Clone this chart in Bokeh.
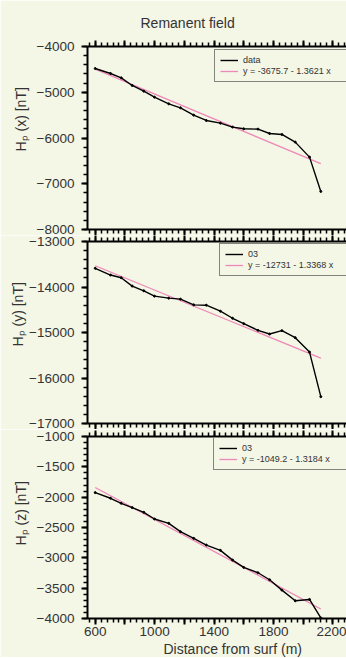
import numpy as np
from bokeh.plotting import figure
from bokeh.models import (Range1d, LinearAxis, SingleIntervalTicker, Legend,
                          LegendItem, Title)
from bokeh.layouts import column
from bokeh.embed import file_html
from bokeh.resources import INLINE
import re

# ---------------- data ----------------
distance = [600, 703, 775, 849, 927, 999, 1095, 1174, 1263, 1348, 1443,
            1525, 1600, 1696, 1774, 1857, 1947, 2043, 2119]
hx = [-4481, -4590, -4685, -4852, -4976, -5107, -5253, -5340, -5500, -5617,
      -5675, -5762, -5799, -5806, -5901, -5923, -6090, -6418, -7168]
hy = [-13589, -13737, -13796, -13980, -14083, -14201, -14245, -14267, -14392,
      -14400, -14532, -14687, -14805, -14952, -15033, -14959, -15114, -15431, -16411]
hz = [-1925, -2018, -2101, -2172, -2250, -2360, -2431, -2569, -2679, -2789,
      -2877, -3037, -3158, -3246, -3361, -3532, -3708, -3686, -3990]

series_names = ["data", "03", "03"]
fit_intercepts = [-3675.7, -12731.0, -1049.2]
fit_slopes = [-1.3621, -1.3368, -1.3184]
fit_labels = ["y = -3675.7 - 1.3621 x", "y = -12731 - 1.3368 x", "y = -1049.2 - 1.3184 x"]
y_titles = ["H\u209a (x) [nT]", "H\u209a (y) [nT]", "H\u209a (z) [nT]"]
y_ranges = [(-8000, -4000), (-17000, -13000), (-4000, -1000)]
y_tick_step = [1000, 1000, 500]
x_tick_step = 200
x_major = [600, 800, 1000, 1200, 1400, 1600, 1800, 2000, 2200]
x_labeled = [600, 1000, 1400, 1800, 2200]
title_text = "Remanent  field"
x_title = "Distance from surf (m)"

BG = "#f4f6e6"
INK = "#000000"
TXT = "#333333"
PINK = "#ee88b8"
FONT = "Liberation Sans"
X_RANGE = (548, 2292)

# layout (pixels)
frame_w = 259
frame_h = [183, 182, 182]
b_top = [46, 6, 7]
b_bot = [6, 6, 39]
legend_xy = [(127, 147), (132, 147), (126, 148)]
ylab_offset = [78, 77, 73]
ylab_standoff = [9, 2, 9]


def style_axis(ax, step, show_labels):
    ax.ticker = SingleIntervalTicker(interval=step, num_minor_ticks=5)
    ax.axis_line_color = INK
    ax.axis_line_width = 2
    ax.major_tick_line_color = INK
    ax.major_tick_line_width = 2
    ax.minor_tick_line_color = INK
    ax.minor_tick_line_width = 1.5
    ax.major_tick_in = 0
    ax.major_tick_out = 6
    ax.minor_tick_in = 0
    ax.minor_tick_out = 4
    if show_labels:
        ax.major_label_text_font = FONT
        ax.major_label_text_font_size = "13.5px"
        ax.major_label_text_color = TXT
    else:
        ax.major_label_overrides = {v: "" for v in x_major}
        ax.major_label_text_font_size = "1px"
        ax.major_label_text_color = BG
        ax.major_label_standoff = 0


figs = []
all_y = [hx, hy, hz]
for i in range(3):
    lo, hi = y_ranges[i]
    p = figure(frame_width=frame_w, frame_height=frame_h[i],
               x_range=Range1d(*X_RANGE), y_range=Range1d(lo, hi),
               x_axis_type=None, y_axis_type=None,
               output_backend="svg", toolbar_location=None,
               min_border_left=87, min_border_right=0,
               min_border_top=b_top[i], min_border_bottom=b_bot[i],
               background_fill_color=BG, border_fill_color=BG,
               outline_line_color=None)
    if i == 0:
        p.title.text = title_text
        p.title.align = "left"
        p.title.offset = 53
        p.title.text_font = FONT
        p.title.text_font_size = "14px"
        p.title.text_font_style = "normal"
        p.title.text_color = TXT
        p.title.standoff = 20

    left = LinearAxis()
    style_axis(left, y_tick_step[i], True)
    left.major_label_standoff = 7
    p.add_layout(left, "left")
    p.add_layout(Title(text=y_titles[i], align="left", offset=ylab_offset[i],
                       standoff=ylab_standoff[i], text_font=FONT,
                       text_font_size="14px", text_font_style="normal",
                       text_color=TXT), "left")

    top = LinearAxis()
    style_axis(top, x_tick_step, False)
    p.add_layout(top, "above")

    bottom = LinearAxis()
    if i == 2:
        style_axis(bottom, x_tick_step, True)
        bottom.major_label_standoff = 2
        bottom.major_label_overrides = {v: (str(v) if v in x_labeled else "") for v in x_major}
    else:
        style_axis(bottom, x_tick_step, False)
    p.add_layout(bottom, "below")
    if i == 2:
        p.add_layout(Title(text=x_title, align="left", offset=76, standoff=1,
                           text_font=FONT, text_font_size="14px",
                           text_font_style="normal", text_color=TXT), "below")

    # regression line drawn from the legend's coefficients
    xs = [min(distance), max(distance)]
    fit_y = [fit_intercepts[i] + fit_slopes[i] * v for v in xs]
    fit_r = p.line(xs, fit_y, line_color=PINK, line_width=1.3)
    data_r = p.line(distance, all_y[i], line_color="black", line_width=1.4)
    p.scatter(distance, all_y[i], size=2, color="black")

    leg = Legend(items=[LegendItem(label=series_names[i], renderers=[data_r]),
                        LegendItem(label=fit_labels[i], renderers=[fit_r])],
                 location=legend_xy[i])
    leg.border_line_color = "#111111"
    leg.border_line_width = 1.5
    leg.background_fill_color = BG
    leg.background_fill_alpha = 1
    leg.label_text_font = FONT
    leg.label_text_font_size = "9px"
    leg.label_text_color = TXT
    leg.glyph_height = 10
    leg.glyph_width = 18
    leg.label_height = 10
    leg.label_width = 100
    leg.padding = 5
    leg.spacing = 1
    leg.margin = 0
    leg.label_standoff = 5
    p.add_layout(leg)
    figs.append(p)

layout = column(*figs)
html = file_html(layout, INLINE, title="Remanent field")
html = re.sub(r"<body[^>]*>",
              '<body style="margin:0 !important;padding:0;background:%s;overflow:hidden">' % BG,
              html, count=1)
open("out.html", "w").write(html)
